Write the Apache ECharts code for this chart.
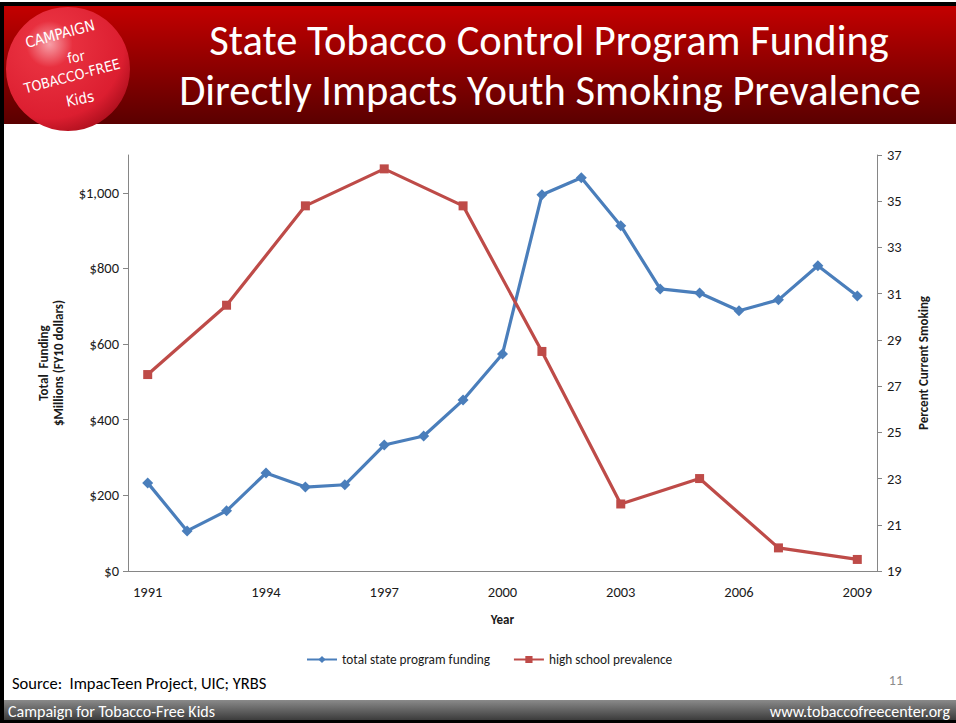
<!DOCTYPE html>
<html>
<head>
<meta charset="utf-8">
<script src="https://cdn.jsdelivr.net/npm/echarts@6/dist/echarts.min.js"></script>
<style>
  html, body { margin: 0; padding: 0; background: #fff; }
  #chart { width: 956px; height: 723px; }
</style>
</head>
<body>
<div id="chart"></div>
<script>
// Years on the horizontal axis
const years = ['1991', '1992', '1993', '1994', '1995', '1996', '1997', '1998', '1999', '2000',
               '2001', '2002', '2003', '2004', '2005', '2006', '2007', '2008', '2009'];

// Total state tobacco control program funding, $ millions (FY10 dollars)
const funding = [233, 106, 159, 259, 222, 228, 333, 357, 452, 574,
                 995, 1040, 913, 746, 735, 688, 717, 807, 727];

// High school current smoking prevalence (%), surveyed in odd years (YRBS)
const prevalence = [27.5, null, 30.5, null, 34.8, null, 36.4, null, 34.8, null,
                    28.5, null, 21.9, null, 23.0, null, 20.0, null, 19.5];

// Tick values of the two value axes
const fundingTicks = [0, 200, 400, 600, 800, 1000];
const smokingTicks = [19, 21, 23, 25, 27, 29, 31, 33, 35, 37];

const FONT = 'Carlito, Lato, "Open Sans", sans-serif';
const LOGO_FONT = '"DejaVu Sans Condensed", "Liberation Sans Narrow", sans-serif';
const BLUE = '#4a7ebb';
const RED = '#be4b48';
const AXIS_GREY = '#868686';
const INK = '#1a1a1a';
const TICK_SIZE = 14.5;
const NAME_SIZE = 13;

const chart = echarts.init(document.getElementById('chart'), null, { renderer: 'svg' });

const option = {
  backgroundColor: '#ffffff',
  animation: false,
  textStyle: { fontFamily: FONT },
  grid: { left: 128, right: 79, top: 155, bottom: 152, containLabel: false },
  legend: {
    top: 648,
    left: 301,
    itemWidth: 30,
    itemHeight: 9,
    itemGap: 23,
    textStyle: { fontFamily: FONT, fontSize: 13.3, color: INK },
    data: ['total state program funding', 'high school prevalence']
  },
  xAxis: {
    type: 'category',
    data: years,
    boundaryGap: true,
    name: 'Year',
    nameLocation: 'middle',
    nameGap: 42,
    nameTextStyle: { fontFamily: FONT, fontSize: NAME_SIZE, fontWeight: 'bold', color: INK },
    axisLine: { lineStyle: { color: AXIS_GREY, width: 1 } },
    axisTick: { interval: 0, length: 5, lineStyle: { color: AXIS_GREY } },
    axisLabel: { interval: 2, margin: 13, fontSize: TICK_SIZE, color: INK, fontFamily: FONT },
    splitLine: { show: false }
  },
  yAxis: [
    {
      type: 'value',
      position: 'left',
      min: 0,
      max: 1100,
      name: 'Total  Funding\n$Millions (FY10 dollars)',
      nameLocation: 'middle',
      nameRotate: 90,
      nameGap: 62,
      nameTextStyle: { fontFamily: FONT, fontSize: NAME_SIZE, fontWeight: 'bold', color: INK, lineHeight: 15, align: 'center' },
      axisLine: { show: true, lineStyle: { color: AXIS_GREY, width: 1 } },
      axisTick: { show: true, length: 5, customValues: fundingTicks, lineStyle: { color: AXIS_GREY } },
      axisLabel: {
        customValues: fundingTicks,
        margin: 9,
        fontSize: TICK_SIZE,
        color: INK,
        fontFamily: FONT,
        formatter: v => '$' + Number(v).toLocaleString('en-US')
      },
      splitLine: { show: false }
    },
    {
      type: 'value',
      position: 'right',
      min: 19,
      max: 37,
      name: 'Percent Current Smoking',
      nameLocation: 'middle',
      nameRotate: 90,
      nameGap: 40,
      nameTextStyle: { fontFamily: FONT, fontSize: NAME_SIZE, fontWeight: 'bold', color: INK },
      axisLine: { show: true, lineStyle: { color: AXIS_GREY, width: 1 } },
      axisTick: { show: true, length: 5, customValues: smokingTicks, lineStyle: { color: AXIS_GREY } },
      axisLabel: { customValues: smokingTicks, margin: 10, fontSize: TICK_SIZE, color: INK, fontFamily: FONT },
      splitLine: { show: false }
    }
  ],
  series: [
    {
      name: 'total state program funding',
      type: 'line',
      yAxisIndex: 0,
      data: funding,
      color: BLUE,
      symbol: 'diamond',
      symbolSize: 11,
      lineStyle: { color: BLUE, width: 3.2 },
      itemStyle: { color: BLUE }
    },
    {
      name: 'high school prevalence',
      type: 'line',
      yAxisIndex: 1,
      data: prevalence,
      connectNulls: true,
      color: RED,
      symbol: 'rect',
      symbolSize: 9,
      lineStyle: { color: RED, width: 3.2 },
      itemStyle: { color: RED }
    }
  ],
  graphic: [
    // slide frame strips
    { type: 'rect', shape: { x: 0, y: 2, width: 956, height: 4 }, style: { fill: '#000' } },
    { type: 'rect', shape: { x: 0, y: 2, width: 4, height: 721 }, style: { fill: '#000' } },
    { type: 'rect', shape: { x: 0, y: 720, width: 956, height: 3 }, style: { fill: '#000' } },
    // header banner
    {
      type: 'rect',
      shape: { x: 4, y: 6, width: 952, height: 118 },
      style: {
        fill: new echarts.graphic.LinearGradient(0, 0, 0, 1, [
          { offset: 0, color: '#c30000' },
          { offset: 1, color: '#5a0000' }
        ])
      }
    },
    // footer bar
    {
      type: 'rect',
      shape: { x: 4, y: 700, width: 952, height: 20 },
      style: {
        fill: new echarts.graphic.LinearGradient(0, 0, 0, 1, [
          { offset: 0, color: '#8a8a8a' },
          { offset: 1, color: '#3c3c3c' }
        ])
      }
    },
    // logo badge
    {
      type: 'circle',
      shape: { cx: 68, cy: 69, r: 62 },
      style: {
        fill: new echarts.graphic.RadialGradient(0.35, 0.3, 0.75, [
          { offset: 0, color: '#f7a0a8' },
          { offset: 0.25, color: '#e8303f' },
          { offset: 0.8, color: '#dc1e30' },
          { offset: 1, color: '#b0101e' }
        ])
      }
    },
    { type: 'text', x: 60, y: 34, rotation: 0.26, style: { text: 'CAMPAIGN', fill: '#fff', font: '15px ' + LOGO_FONT, align: 'center', verticalAlign: 'middle' } },
    { type: 'text', x: 76, y: 57, rotation: 0.2, style: { text: 'for', fill: '#fff', font: '14px ' + LOGO_FONT, align: 'center', verticalAlign: 'middle' } },
    { type: 'text', x: 72, y: 76, rotation: 0.26, style: { text: 'TOBACCO-FREE', fill: '#fff', font: '14px ' + LOGO_FONT, align: 'center', verticalAlign: 'middle' } },
    { type: 'text', x: 80, y: 99, rotation: 0.2, style: { text: 'Kids', fill: '#fff', font: '15px ' + LOGO_FONT, align: 'center', verticalAlign: 'middle' } },
    // title
    { type: 'text', x: 549, y: 40, style: { text: 'State Tobacco Control Program Funding', fill: '#fff', font: '42.5px ' + FONT, align: 'center', verticalAlign: 'middle' } },
    { type: 'text', x: 550, y: 90, style: { text: 'Directly Impacts Youth Smoking Prevalence', fill: '#fff', font: '42.5px ' + FONT, align: 'center', verticalAlign: 'middle' } },
    // source and slide number
    { type: 'text', x: 12, y: 683, style: { text: 'Source:  ImpacTeen Project, UIC; YRBS', fill: '#000', font: '16.5px ' + FONT, align: 'left', verticalAlign: 'middle' } },
    { type: 'text', x: 903, y: 680, style: { text: '11', fill: '#8c8c8c', font: '14px ' + FONT, align: 'right', verticalAlign: 'middle' } },
    // footer texts
    { type: 'text', x: 8, y: 711, style: { text: 'Campaign for Tobacco-Free Kids', fill: '#fff', font: '16px ' + FONT, align: 'left', verticalAlign: 'middle' } },
    { type: 'text', x: 950, y: 711, style: { text: 'www.tobaccofreecenter.org', fill: '#fff', font: '16px ' + FONT, align: 'right', verticalAlign: 'middle' } }
  ]
};

chart.setOption(option);
</script>
</body>
</html>
